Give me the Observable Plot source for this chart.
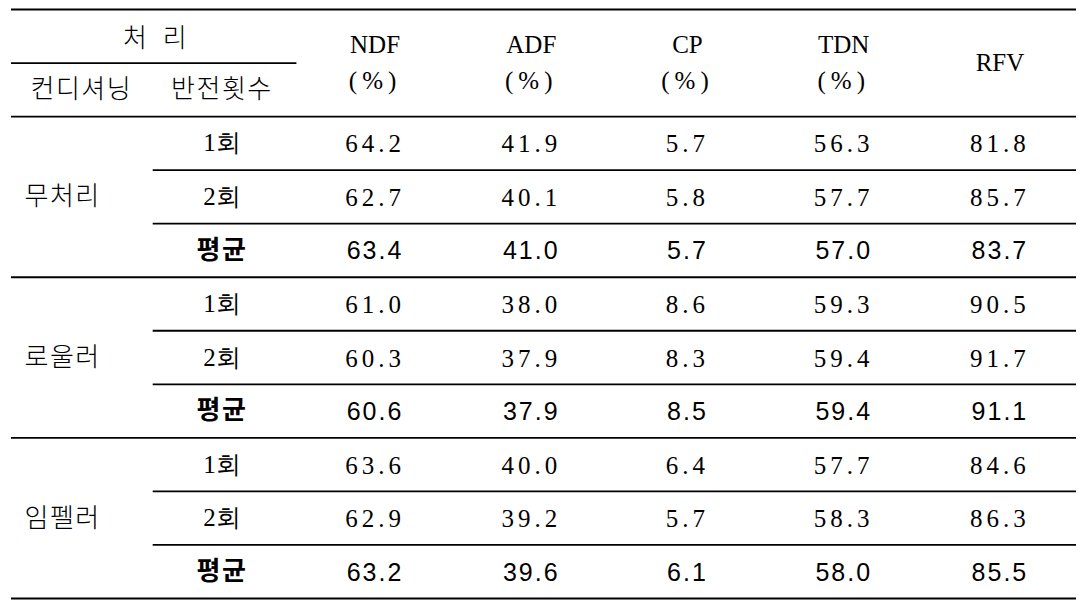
<!DOCTYPE html>
<html>
<head>
<meta charset="utf-8">
<script src="https://cdn.jsdelivr.net/npm/d3@7"></script>
<script src="https://cdn.jsdelivr.net/npm/@observablehq/plot@0.6"></script>
<style>
  html, body { margin: 0; padding: 0; background: white; }
  .num text { letter-spacing: 4px; }
  .bnum text { letter-spacing: 2px; }
  .unit text { letter-spacing: 5px; }
  .kr text { letter-spacing: 1.5px; }
  .krwide text { letter-spacing: 5px; }
</style>
</head>
<body>
<div id="chart"></div>
<script>
// ---- data ----
const headerTop = "처 리";
const headerSub = ["컨디셔닝", "반전횟수"];
const metrics = ["NDF", "ADF", "CP", "TDN", "RFV"];
const metricUnits = ["(%)", "(%)", "(%)", "(%)", ""];
const conditioning = ["무처리", "로울러", "임펠러"];
const turns = ["1회", "2회", "평균"];
const NDF = [64.2, 62.7, 63.4, 61.0, 60.3, 60.6, 63.6, 62.9, 63.2];
const ADF = [41.9, 40.1, 41.0, 38.0, 37.9, 37.9, 40.0, 39.2, 39.6];
const CP  = [5.7, 5.8, 5.7, 8.6, 8.3, 8.5, 6.4, 5.7, 6.1];
const TDN = [56.3, 57.7, 57.0, 59.3, 59.4, 59.4, 57.7, 58.3, 58.0];
const RFV = [81.8, 85.7, 83.7, 90.5, 91.7, 91.1, 84.6, 86.3, 85.5];

// ---- derived table ----
const series = [NDF, ADF, CP, TDN, RFV];
const cells = [];
conditioning.forEach((g, gi) => {
  turns.forEach((t, ti) => {
    const row = gi * turns.length + ti;
    series.forEach((vals, mi) => {
      cells.push({row, col: 2 + mi, text: vals[row].toFixed(1), bold: ti === turns.length - 1});
    });
  });
});
const turnCells = conditioning.flatMap((g, gi) => turns.map((t, ti) => ({row: gi * turns.length + ti, text: t, bold: ti === turns.length - 1})));
const groupCells = conditioning.map((g, gi) => ({row: gi * turns.length + 1, text: g}));
const headerMetrics = metrics.map((m, i) => ({col: 2 + i, name: m, unit: metricUnits[i]}));

// table structure in column/row units
const tLeft = -0.327, tRight = 6.49;
const tTop = -2.5, tBottom = conditioning.length * turns.length - 0.5;
const fullLines = [tTop, -0.5, ...conditioning.map((g, gi) => (gi + 1) * turns.length - 0.5)];
const innerLines = conditioning.flatMap((g, gi) => [gi * 3 + 0.5, gi * 3 + 1.5]);

const KR = "'Noto Sans CJK KR', sans-serif";
const SERIF = "'Liberation Serif', serif";
const SANS = "'Liberation Sans', sans-serif";
const FS = 25;
const KFS = 26;

const chart = Plot.plot({
  width: 1083,
  height: 612,
  marginTop: 9,
  marginBottom: 14,
  marginLeft: 11,
  marginRight: 7,
  style: {background: "white", color: "black"},
  x: {domain: [tLeft, tRight], axis: null},
  y: {domain: [tTop, tBottom], reverse: true, axis: null},
  marks: [
    Plot.ruleY(fullLines, {stroke: "black", strokeWidth: 1.8}),
    Plot.ruleY(innerLines, {x1: 0.58, x2: tRight, stroke: "black", strokeWidth: 1.8}),
    Plot.ruleY([-1.5], {x1: tLeft, x2: 1.5, stroke: "black", strokeWidth: 1.8}),
    // headers
    Plot.text([headerTop], {x: (tLeft + 1.5) / 2 + 0.02, y: -2, dy: 2, text: d => d, fontSize: KFS, fontFamily: KR, fontWeight: 300, fill: "black", className: "krwide"}),
    Plot.text(headerSub, {x: (d, i) => i === 0 ? 0.12 : 1.02, y: -1, text: d => d, fontSize: KFS, fontFamily: KR, fontWeight: 300, fill: "black", className: "kr"}),
    Plot.text(headerMetrics.filter(d => d.unit), {x: "col", y: -1.5, dy: -18, text: "name", fontSize: FS, fontFamily: SERIF, fill: "black"}),
    Plot.text(headerMetrics.filter(d => !d.unit), {x: "col", y: -1.5, text: "name", fontSize: FS, fontFamily: SERIF, fill: "black"}),
    Plot.text(headerMetrics.filter(d => d.unit), {x: "col", y: -1.5, dy: 18, text: "unit", fontSize: FS, fontFamily: SERIF, fill: "black", className: "unit"}),
    // row labels
    Plot.text(groupCells, {x: 0, y: "row", text: "text", fontSize: KFS, fontFamily: KR, fontWeight: 300, fill: "black", className: "kr"}),
    Plot.text(turnCells.filter(d => !d.bold), {x: 1.02, y: "row", text: "text", fontSize: FS, fontFamily: SERIF, fill: "black"}),
    Plot.text(turnCells.filter(d => d.bold), {x: 1.02, y: "row", text: "text", fontSize: KFS, fontFamily: KR, fontWeight: 700, fill: "black", className: "kr"}),
    // values
    Plot.text(cells.filter(d => !d.bold), {x: "col", y: "row", dy: 1, text: "text", fontSize: FS, fontFamily: SERIF, fill: "black", className: "num"}),
    Plot.text(cells.filter(d => d.bold), {x: "col", y: "row", dy: 1, text: "text", fontSize: FS, fontFamily: SANS, fill: "black", className: "bnum"})
  ]
});
document.getElementById("chart").appendChild(chart);
</script>
</body>
</html>
